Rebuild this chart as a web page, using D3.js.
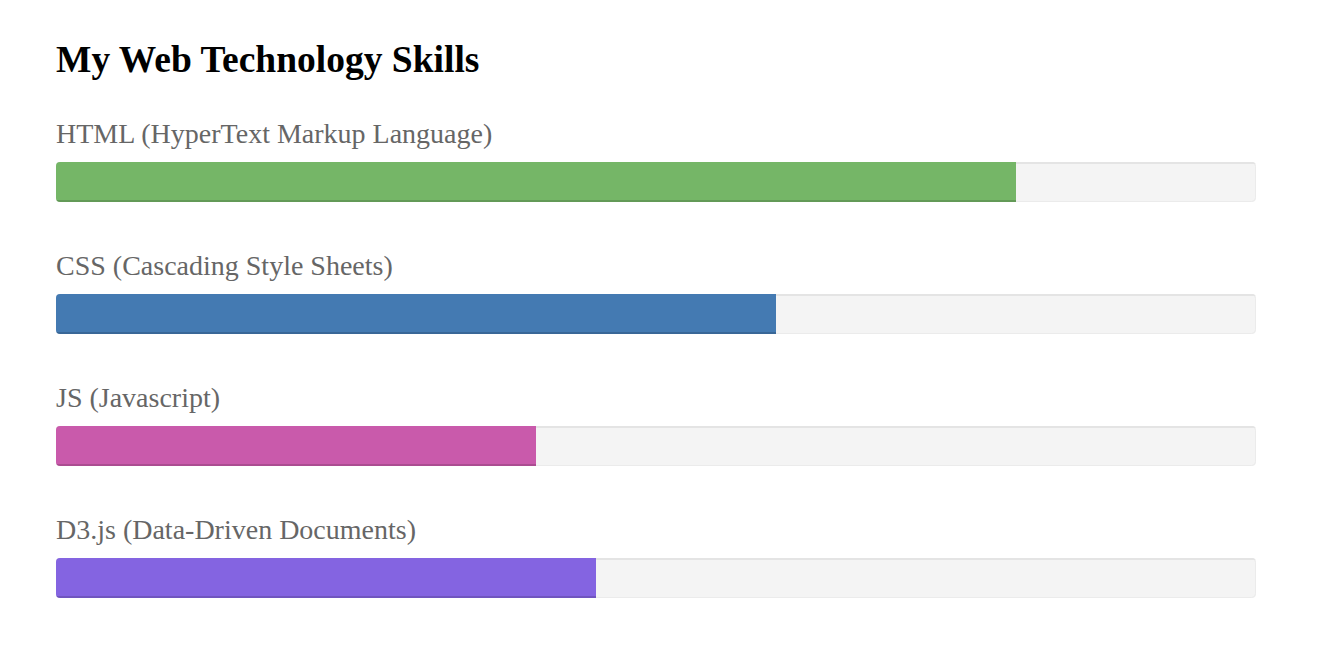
<!DOCTYPE html>
<html><head><meta charset="utf-8">
<script src="https://cdn.jsdelivr.net/npm/d3@7"></script>
<style>
html,body{margin:0;padding:0;background:#fff;}
svg{display:block;}
</style></head>
<body>
<svg id="chart" width="1320" height="656"></svg>
<script>
const title = "My Web Technology Skills";
const skills = ["HTML (HyperText Markup Language)", "CSS (Cascading Style Sheets)", "JS (Javascript)", "D3.js (Data-Driven Documents)"];
const values = [80, 60, 40, 45];
const colors = ["#75b667", "#447ab2", "#c95aab", "#8464e1"];

const svg = d3.select("#chart");
const left = 56, trackW = 1200, barH = 40, firstTop = 162, step = 132;

const x = d3.scaleLinear().domain([0, 100]).range([0, trackW]);
const y = d3.scaleBand().domain(skills).range([firstTop, firstTop + step * skills.length]).paddingInner(0).align(0);

svg.append("text").attr("x", left).attr("y", 72)
  .attr("font-family", "'Liberation Serif', 'Times New Roman', serif")
  .attr("font-size", 37.5).attr("font-weight", "bold").attr("fill", "#000").text(title);

const defs = svg.append("defs");
const g = svg.selectAll("g.skill").data(skills).join("g").attr("class", "skill")
  .attr("transform", d => `translate(${left},${y(d)})`);

g.append("text").attr("x", 0).attr("y", -19)
  .attr("font-family", "'Liberation Serif', 'Times New Roman', serif")
  .attr("font-size", 28).attr("fill", "#666").text(d => d);

g.each(function(d, i) {
  defs.append("clipPath").attr("id", "clip" + i).append("rect")
    .attr("x", 0).attr("y", 0).attr("width", trackW).attr("height", barH).attr("rx", 4);
});

g.append("rect").attr("x", 0).attr("y", 0).attr("width", trackW).attr("height", barH).attr("rx", 4)
  .attr("fill", "#f4f4f4");
// inset shadow of track
g.append("rect").attr("x", 0.5).attr("y", 0.5).attr("width", trackW - 1).attr("height", barH - 1).attr("rx", 4)
  .attr("fill", "none").attr("stroke", "#ebebeb").attr("stroke-width", 1);
g.append("rect").attr("x", 0).attr("y", 0).attr("width", trackW).attr("height", 2)
  .attr("clip-path", (d, i) => `url(#clip${i})`).attr("fill", "#e4e4e4");

const bars = g.append("g").attr("clip-path", (d, i) => `url(#clip${i})`);
bars.append("rect").attr("x", 0).attr("y", 0).attr("height", barH)
  .attr("width", (d, i) => x(values[i])).attr("fill", (d, i) => colors[i]);
bars.append("rect").attr("x", 0).attr("y", barH - 2).attr("height", 2)
  .attr("width", (d, i) => x(values[i])).attr("fill", "rgba(0,0,0,0.15)");
</script>
</body></html>
